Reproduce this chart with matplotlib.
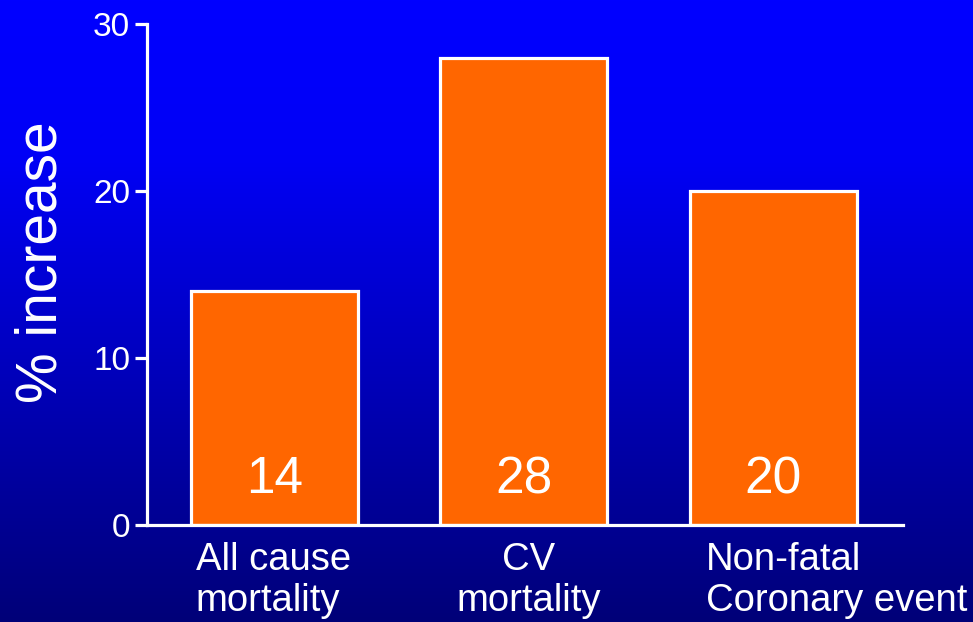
import numpy as np
import matplotlib
matplotlib.use("Agg")
import matplotlib.pyplot as plt
from matplotlib.colors import LinearSegmentedColormap

# Dane
kategorie = ["All cause\nmortality", "CV\nmortality", "Non-fatal\nCoronary event"]
wartosci = [14, 28, 20]
y_ticki = [0, 10, 20, 30]

plt.rcParams['font.family'] = ['Liberation Sans', 'DejaVu Sans']

fig = plt.figure(figsize=(9.73, 6.22), dpi=100)

# Tło z gradientem (jasny niebieski u góry, granat na dole)
tlo = fig.add_axes([0, 0, 1, 1], zorder=-1)
cmap = LinearSegmentedColormap.from_list(
    "tlo", [(0, "#0000ff"), (0.25, "#0000f6"), (0.5, "#0000cc"), (1, "#000078")])
grad = np.linspace(0, 1, 256).reshape(-1, 1)
tlo.imshow(grad, aspect='auto', cmap=cmap, extent=[0, 1, 0, 1])
tlo.axis('off')

ax = fig.add_axes([0.151, 0.156, 0.777, 0.805])
ax.patch.set_alpha(0)

x = np.arange(len(wartosci))
szer = 0.67
bary = ax.bar(x, wartosci, width=szer, color='#ff6600', edgecolor='white', linewidth=2.3)

for xi, w in zip(x, wartosci):
    ax.text(xi, 2.7, str(w), ha='center', va='center', color='white', fontsize=37)

ax.set_xlim(-0.51, 2.52)
ax.set_ylim(0, 30)
ax.set_yticks(y_ticki)
ax.set_xticks([])

# Podpisy kategorii (pierwszy i trzeci wyrównane do lewej, środkowy wyśrodkowany)
ustawienia = [('left', 0.02), ('center', 0.355), ('left', 0.065)]
for xi, kat, (wyr, dx) in zip(x, kategorie, ustawienia):
    ax.text(xi - szer / 2 + dx, -0.035, kat, transform=ax.get_xaxis_transform(),
            ha=wyr, va='top', multialignment=wyr if wyr == 'left' else 'center',
            color='white', fontsize=27.5, linespacing=1.15)

for s in ['top', 'right']:
    ax.spines[s].set_visible(False)
for s in ['left', 'bottom']:
    ax.spines[s].set_color('white')
    ax.spines[s].set_linewidth(2.3)

ax.tick_params(axis='y', colors='white', labelsize=24, width=2.3, length=9, pad=3)
ax.set_ylabel('% increase', color='white', fontsize=41, labelpad=18)
ax.yaxis.label.set_y(0.525)

fig.savefig('out.png', dpi=100)
